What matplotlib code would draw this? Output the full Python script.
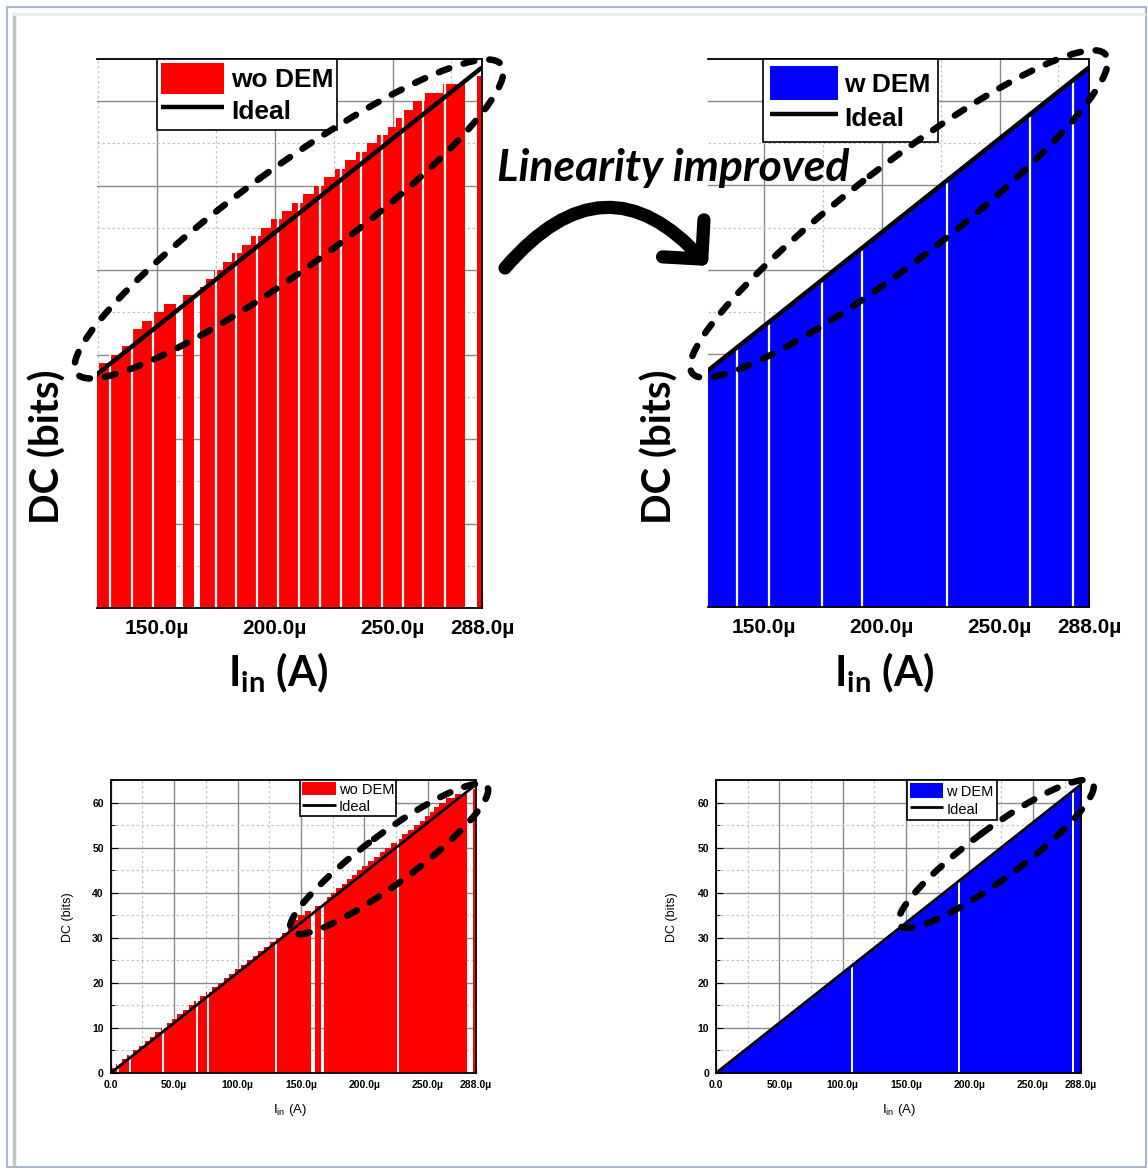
import matplotlib.pyplot as plt
import numpy as np
from matplotlib.patches import Ellipse, FancyArrowPatch, Rectangle, ArrowStyle
from matplotlib.transforms import Affine2D
from matplotlib.lines import Line2D
from matplotlib.ticker import FixedLocator

W, H = 1148, 1171
plt.rcParams['font.family'] = ['Liberation Sans', 'DejaVu Sans']

# ideal transfer curve (uA -> code)
ideal_i = [0, 288]
ideal_dc = [0, 64]

# without DEM: left edge of each column (uA) and its output code (0 = missing)
i_wo = [0.0, 4.2, 8.7, 13.2, 17.7, 22.2, 26.7, 31.2, 35.2, 39.7,
        44.2, 48.7, 52.5, 57.0, 61.5, 66.0, 70.5, 75.5, 80.0, 84.5,
        89.0, 93.5, 98.0, 102.5, 107.4, 111.9, 116.4, 120.9, 125.3, 130.2,
        135.2, 139.4, 143.7, 148.0, 152.8, 158.2, 161.1, 165.6, 168.1, 170.6,
        174.0, 178.0, 182.0, 186.0, 190.0, 194.0, 198.5, 203.0, 207.5, 212.0,
        216.5, 221.0, 225.5, 230.0, 234.5, 239.0, 243.5, 248.0, 251.5, 255.0,
        258.5, 264.0, 271.5, 280.8, 285.8]
dc_wo = [1, 2, 3, 4, 5, 6, 7, 8, 9, 10,
         11, 12, 13, 14, 15, 16, 17, 18, 19, 20,
         21, 22, 23, 24, 25, 26, 27, 28, 29, 30,
         31, 33, 34, 35, 36, 0, 37, 0, 38, 39,
         40, 41, 42, 43, 44, 45, 46, 47, 48, 49,
         50, 51, 52, 53, 54, 55, 56, 57, 58, 59,
         60, 61, 62, 0, 63]
i_stop = 288.0

# with DEM: measured output follows the ideal line
i_w = [0, 36, 72, 108, 144, 180, 216, 252, 288]
dc_w = [0, 7.9, 15.9, 23.9, 31.9, 39.9, 47.9, 55.9, 63.9]

# thin white seams visible between columns (uA)
seams_wo_zoom = [130.2, 139.4, 148.3, 175.0, 183.7, 192.4, 201.2, 210.1, 219.3,
                 228.1, 236.7, 245.5, 254.4, 263.1, 272.3]
seams_wo_full = [6.0, 15.2, 41.5, 67.8, 77.0, 130.1, 226.8]
seams_w_zoom = [138.6, 152.2, 174.5, 191.5, 227.6, 263.0, 281.3]
seams_w_full = [107.1, 192.0, 282.0]

full_ticks = [0, 50, 100, 150, 200, 250, 288]
full_labels = ['0.0', '50.0µ', '100.0µ', '150.0µ', '200.0µ', '250.0µ', '288.0µ']
zoom_ticks = [150, 200, 250, 288]
zoom_labels = ['150.0µ', '200.0µ', '250.0µ', '288.0µ']

fig = plt.figure(figsize=(W / 100, H / 100), dpi=100)
pix = Affine2D().scale(1, -1).translate(0, H).scale(1 / W, 1 / H) + fig.transFigure


def box(x0, y0, x1, y1):
    return [x0 / W, 1 - y1 / H, (x1 - x0) / W, (y1 - y0) / H]


def seam_heights(xs, kind):
    xs = np.asarray(xs)
    if kind == 'wo':
        idx = np.searchsorted(i_wo, xs, side='right') - 1
        return np.asarray(dc_wo)[idx]
    return np.interp(xs, i_w, dc_w)


def panel(rect, kind, zoomed):
    ax = fig.add_axes(rect)
    if kind == 'wo':
        ax.stairs(dc_wo, i_wo + [i_stop], fill=True, color='#ff0000', zorder=1,
                  label='wo DEM')
    else:
        ax.fill_between(i_w, dc_w, color='#0000ff', lw=0, zorder=1, label='w DEM')
    seams = {('wo', True): seams_wo_zoom, ('wo', False): seams_wo_full,
             ('w', True): seams_w_zoom, ('w', False): seams_w_full}[(kind, zoomed)]
    ax.vlines(seams, 0, seam_heights(seams, kind), color='white',
              lw=1.6 if zoomed else 1.4, zorder=1.5)
    ax.plot(ideal_i, ideal_dc, color='black', lw=3.2 if zoomed else 2.0,
            zorder=3, label='Ideal', solid_capstyle='butt')
    ax.set_ylim(0, 65)
    ax.set_axisbelow(True)
    ax.yaxis.set_major_locator(FixedLocator([0, 10, 20, 30, 40, 50, 60]))
    ax.yaxis.set_minor_locator(FixedLocator([5, 15, 25, 35, 45, 55, 65]))
    ax.grid(which='major', color='#8a8a8a', lw=1.0, ls='-')
    ax.grid(which='minor', color='#c4c4c4', lw=0.9, ls=(0, (2, 2)))
    for s in ax.spines.values():
        s.set_linewidth(1.3)
    if zoomed:
        ax.set_xlim(124.4 if kind == 'wo' else 126.2, 288)
        ax.set_xticks(zoom_ticks)
        ax.set_xticklabels(zoom_labels, fontweight='bold', fontsize=15)
        ax.xaxis.set_minor_locator(FixedLocator([125, 175, 225, 275]))
        ax.tick_params(axis='x', which='both', direction='in', length=5, pad=8)
        ax.tick_params(axis='y', which='both', length=0, labelleft=False)
        ax.spines['left'].set_visible(False)
        if kind == 'wo':
            opts = dict(bbox_to_anchor=(0.1565, 1.0), handlelength=2.4,
                        handleheight=1.45, borderpad=0.15)
        else:
            opts = dict(bbox_to_anchor=(0.144, 1.0), handlelength=2.55,
                        handleheight=1.6, borderpad=0.28)
        leg = ax.legend(loc='upper left', borderaxespad=0,
                        prop={'weight': 'bold', 'size': 19}, labelspacing=0.02,
                        handletextpad=0.25, fancybox=False, framealpha=1,
                        edgecolor='black', **opts)
    else:
        ax.set_xlim(0, 288)
        ax.set_xticks(full_ticks)
        ax.set_xticklabels(full_labels, fontweight='bold', fontsize=7.5)
        ax.set_yticklabels(['0', '10', '20', '30', '40', '50', '60'],
                           fontweight='bold', fontsize=7.5)
        ax.xaxis.set_minor_locator(FixedLocator([25, 75, 125, 175, 225, 275]))
        ax.tick_params(which='major', direction='in', length=5, pad=5)
        ax.tick_params(which='minor', direction='in', length=3)
        if kind == 'wo':
            opts = dict(bbox_to_anchor=(0.518, 1.0), handleheight=1.0,
                        borderpad=0.15)
        else:
            opts = dict(bbox_to_anchor=(0.523, 1.0), handleheight=1.25,
                        borderpad=0.2)
        leg = ax.legend(loc='upper left', borderaxespad=0, prop={'size': 10.5},
                        handlelength=2.3, labelspacing=0.17, handletextpad=0.2,
                        fancybox=False, framealpha=1, edgecolor='black', **opts)
    leg.get_frame().set_linewidth(1.2)
    return ax


ax_tl = panel(box(96.7, 59, 482, 608), 'wo', True)
ax_tr = panel(box(708, 59, 1089, 607), 'w', True)
ax_bl = panel(box(110.7, 780, 476, 1073), 'wo', False)
ax_br = panel(box(716, 780, 1081, 1073), 'w', False)

# axis titles
big = dict(family='Lato', fontweight='bold', transform=pix)
for x in (48, 660):
    fig.text(x, 447, 'DC (bits)', rotation=90, ha='center', va='center',
             fontsize=29, **big)
for x in (278, 884):
    fig.text(x, 686, r'I$_\mathregular{in}$ (A)', ha='center', va='baseline',
             fontsize=30, **big)
for x in (68, 672):
    fig.text(x, 917, 'DC (bits)', rotation=90, ha='center', va='center',
             fontsize=9, transform=pix)
for x in (290, 899):
    fig.text(x, 1113, r'I$_\mathregular{in}$ (A)', ha='center', va='baseline',
             fontsize=9.5, transform=pix)

# annotation: dashed ellipses around the upper end of the curves
for cx, cy, w, h, ang in [(289, 219, 525, 100, -36.0), (899, 214, 522, 96, -37.6),
                          (389, 859, 244, 50, -36.5), (996, 854, 240, 50, -36.4)]:
    e = Ellipse((cx, cy), w, h, angle=ang, transform=pix, fill=False,
                edgecolor='black', lw=4.7, ls=(0, (1.7, 2.3)), capstyle='round',
                zorder=10)
    fig.add_artist(e)

# curved arrow and caption
arrow = FancyArrowPatch((505, 268), (708, 266), transform=pix,
                        connectionstyle='arc3,rad=-0.57',
                        arrowstyle=ArrowStyle('->', head_length=2.0, head_width=2.0),
                        mutation_scale=10, lw=9.5, color='black',
                        capstyle='round', joinstyle='round',
                        shrinkA=0, shrinkB=0, zorder=10)
fig.add_artist(arrow)
fig.text(497, 181, 'Linearity improved', family='Lato', fontweight='bold',
         style='italic', fontsize=32, ha='left', va='baseline', transform=pix,
         zorder=11)

# page frame
fig.add_artist(Rectangle((7, 7), 1139, 1160, transform=pix, fill=False,
                         edgecolor='#a9b7cf', lw=1.5))
fig.add_artist(Line2D([14, 14], [14, 1164], transform=pix, color='#c3c3c3', lw=2.5))
fig.add_artist(Line2D([14, 1144], [14, 14], transform=pix, color='#ececec', lw=2.0))

fig.savefig('out.png', dpi=100)
